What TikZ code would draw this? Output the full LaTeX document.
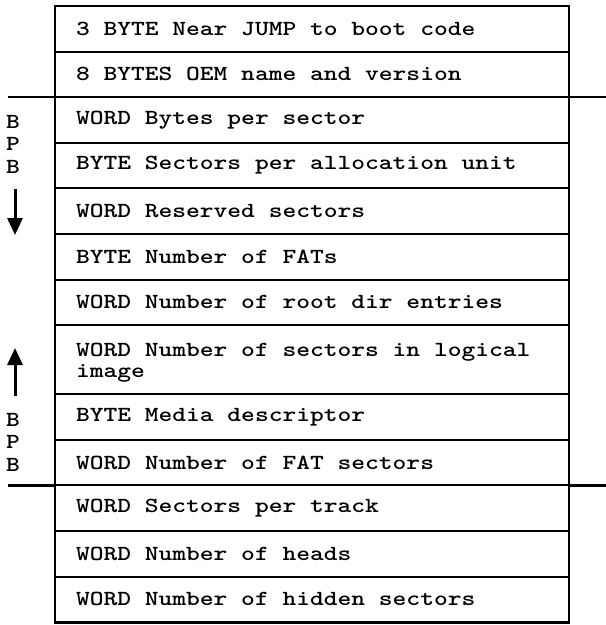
\documentclass[tikz,border=0pt]{standalone}
\usepackage{fontspec}
\usepackage{graphicx}
\usetikzlibrary{positioning,arrows.meta}
\newfontfamily\fieldfont{lmmonolt10-bold.otf}
\newlength\monoadvance
% typewriter lines: every space one glyph wide, the line set a little wider
\newcommand\wide[1]{\scalebox{1.22}[1]{\settowidth\monoadvance{M}%
  \spaceskip=\monoadvance\relax\xspaceskip=\monoadvance\relax #1}}

\tikzset{
  field/.style={draw, line width=2pt, outer sep=0pt, anchor=north west,
    minimum width=514pt, minimum height=45.6pt, inner xsep=21pt, inner ysep=0pt,
    text width=472pt, align=left,
    font=\fieldfont\fontsize{21.5}{22}\selectfont},
  tallfield/.style={field, minimum height=69pt},
  sidelabel/.style={inner sep=0pt, align=center,
    font=\fieldfont\fontsize{21.5}{22.5}\selectfont},
  rule/.style={line width=2.2pt},
  frame/.style={line width=2.8pt},
  bpbarrow/.style={line width=3pt, -{Triangle[width=15pt,length=17pt]}}
}

\begin{document}
\begin{tikzpicture}[x=1pt,y=-1pt]
  \useasboundingbox (0,0) rectangle (606,625);

  % boot sector fields, top to bottom
  \node[field] (r1) at (55,6) {\wide{3 BYTE Near JUMP to boot code}};
  \node[field, below=0pt of r1.south west, anchor=north west] (r2) {\wide{8 BYTES OEM name and version}};
  \node[field, below=0pt of r2.south west, anchor=north west] (r3) {\wide{WORD Bytes per sector}};
  \node[field, below=0pt of r3.south west, anchor=north west] (r4) {\wide{BYTE Sectors per allocation unit}};
  \node[field, below=0pt of r4.south west, anchor=north west] (r5) {\wide{WORD Reserved sectors}};
  \node[field, below=0pt of r5.south west, anchor=north west] (r6) {\wide{BYTE Number of FATs}};
  \node[field, below=0pt of r6.south west, anchor=north west] (r7) {\wide{WORD Number of root dir entries}};
  % two-line field; the strut lowers the pair of lines a little
  \node[tallfield, below=0pt of r7.south west, anchor=north west] (r8) {\rule{0pt}{19.5pt}\wide{WORD Number of sectors in logical}\\[-0.5pt]\wide{image}};
  \node[field, below=0pt of r8.south west, anchor=north west] (r9) {\wide{BYTE Media descriptor}};
  \node[field, below=0pt of r9.south west, anchor=north west] (r10) {\wide{WORD Number of FAT sectors}};
  \node[field, below=0pt of r10.south west, anchor=north west] (r11) {\wide{WORD Sectors per track}};
  \node[field, below=0pt of r11.south west, anchor=north west] (r12) {\wide{WORD Number of heads}};
  \node[field, below=0pt of r12.south west, anchor=north west] (r13) {\wide{WORD Number of hidden sectors}};

  % heavier outer frame
  \draw[frame] (r1.north west) rectangle (r13.south east);

  % BPB boundary rules
  \coordinate (bl1) at (8,0 |- r3.north west);
  \coordinate (br1) at (606,0 |- r3.north east);
  \coordinate (bl2) at (8,0 |- r11.north west);
  \coordinate (br2) at (606,0 |- r11.north east);
  \draw[rule] (bl1) -- (r3.north west);
  \draw[rule] (r3.north east) -- (br1);
  \draw[rule] (bl2) -- (r11.north west);
  \draw[rule] (r11.north east) -- (br2);

  % BPB labels
  \node[sidelabel] (bpb1) at (13,144) {\wide{B}\\\wide{P}\\\wide{B}};
  \node[sidelabel] (bpb2) at (13,442) {\wide{B}\\\wide{P}\\\wide{B}};

  % BPB direction arrows
  \coordinate (da) at (15,189);
  \coordinate (db) at (15,235);
  \coordinate (ua) at (15,396);
  \coordinate (ub) at (15,348);
  \draw[bpbarrow] (da) -- (db);
  \draw[bpbarrow] (ua) -- (ub);
\end{tikzpicture}
\end{document}
